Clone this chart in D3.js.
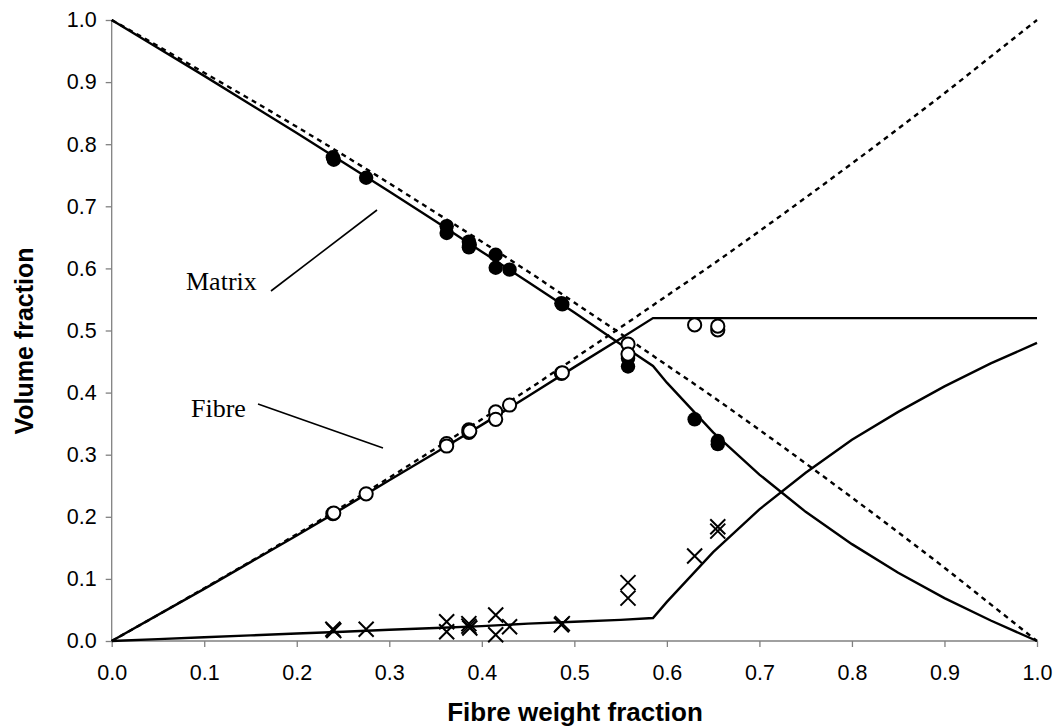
<!DOCTYPE html>
<html>
<head>
<meta charset="utf-8">
<script src="https://cdn.jsdelivr.net/npm/d3@7"></script>
<style>
  html, body { margin: 0; padding: 0; background: #fff; }
  svg { display: block; }
</style>
</head>
<body>
<svg id="chart" width="1055" height="728"></svg>
<script>
// ---------- data ----------
const xTicks = [0, 0.1, 0.2, 0.3, 0.4, 0.5, 0.6, 0.7, 0.8, 0.9, 1.0];
const yTicks = [0, 0.1, 0.2, 0.3, 0.4, 0.5, 0.6, 0.7, 0.8, 0.9, 1.0];

// measured samples: fibre weight fraction and the three volume fractions
const sampleW      = [0.239, 0.240, 0.275, 0.362, 0.362, 0.386, 0.386, 0.387, 0.415, 0.415, 0.430, 0.486, 0.487, 0.558, 0.558, 0.630, 0.655, 0.655];
const sampleMatrix = [0.779, 0.775, 0.746, 0.668, 0.657, 0.643, 0.634, 0.638, 0.622, 0.601, 0.598, 0.544, 0.542, 0.455, 0.442, 0.357, 0.322, 0.317];
const sampleFibre  = [0.205, 0.206, 0.237, 0.318, 0.314, 0.340, 0.336, 0.338, 0.369, 0.357, 0.380, 0.431, 0.432, 0.478, 0.462, 0.509, 0.501, 0.507];
const sampleVoid   = [0.019, 0.017, 0.019, 0.031, 0.015, 0.028, 0.024, 0.021, 0.042, 0.010, 0.023, 0.026, 0.028, 0.069, 0.094, 0.137, 0.177, 0.184];

// theoretical (void-free) curves — dashed
const theoryW      = [0, 0.05, 0.1, 0.15, 0.2, 0.25, 0.3, 0.35, 0.4, 0.45, 0.5, 0.55, 0.6, 0.65, 0.7, 0.75, 0.8, 0.85, 0.9, 0.95, 1.0];
const theoryMatrix = [1, 0.958, 0.915, 0.872, 0.828, 0.783, 0.737, 0.690, 0.643, 0.595, 0.545, 0.495, 0.444, 0.393, 0.340, 0.286, 0.231, 0.175, 0.118, 0.059, 0];
const theoryFibre  = [0, 0.042, 0.085, 0.128, 0.172, 0.217, 0.263, 0.310, 0.357, 0.405, 0.455, 0.505, 0.556, 0.607, 0.660, 0.714, 0.769, 0.825, 0.882, 0.941, 1.0];

// model curves including voids — solid
const modelW      = [0, 0.05, 0.1, 0.15, 0.2, 0.25, 0.3, 0.35, 0.4, 0.45, 0.5, 0.55, 0.585, 0.6, 0.65, 0.7, 0.75, 0.8, 0.85, 0.9, 0.95, 1.0];
const modelMatrix = [1, 0.955, 0.910, 0.864, 0.818, 0.771, 0.724, 0.676, 0.627, 0.578, 0.529, 0.478, 0.443, 0.416, 0.336, 0.268, 0.208, 0.156, 0.110, 0.069, 0.033, 0];
const modelFibre  = [0, 0.042, 0.084, 0.127, 0.170, 0.214, 0.259, 0.303, 0.348, 0.394, 0.441, 0.487, 0.520, 0.520, 0.520, 0.520, 0.520, 0.520, 0.520, 0.520, 0.520, 0.520];
const modelVoid   = [0, 0.003, 0.006, 0.009, 0.012, 0.015, 0.018, 0.021, 0.024, 0.028, 0.031, 0.034, 0.037, 0.063, 0.143, 0.212, 0.271, 0.324, 0.369, 0.410, 0.447, 0.480];

const annotations = [
  { text: "Matrix", tx: 186, ty: 290, x1: 271, y1: 291, x2: 377, y2: 210 },
  { text: "Fibre",  tx: 191, ty: 417, x1: 258, y1: 404, x2: 383, y2: 448 }
];

// ---------- layout ----------
const svg = d3.select("#chart");
const plotLeft = 111.7, plotRight = 1037, plotTop = 20, plotBottom = 641;
const x = d3.scaleLinear().domain([0, 1]).range([plotLeft, plotRight]);
const y = d3.scaleLinear().domain([0, 1]).range([plotBottom, plotTop]);
const axisColor = "#808080";
const fmt = d3.format(".1f");

// axes
const xAxis = svg.append("g").attr("transform", `translate(0,${plotBottom})`)
  .call(d3.axisBottom(x).tickValues(xTicks).tickFormat(fmt).tickSize(6).tickPadding(18));
const yAxis = svg.append("g").attr("transform", `translate(${plotLeft},0)`)
  .call(d3.axisLeft(y).tickValues(yTicks).tickFormat(fmt).tickSize(6).tickPadding(9));
[xAxis, yAxis].forEach(g => {
  g.select(".domain").attr("stroke", axisColor).attr("stroke-width", 1.3);
  g.selectAll(".tick line").attr("stroke", axisColor).attr("stroke-width", 1.3);
  g.selectAll(".tick text").attr("fill", "#000")
    .style("font-family", "'Liberation Sans', Arial, sans-serif").style("font-size", "21.5px");
});
xAxis.select(".domain").attr("d", `M${plotLeft},0H${plotRight}`);
yAxis.select(".domain").attr("d", `M0,${plotBottom}V${plotTop}`);

// axis titles
svg.append("text").attr("x", 575).attr("y", 721)
  .attr("text-anchor", "middle")
  .style("font-family", "'Liberation Sans', Arial, sans-serif").style("font-size", "26px").style("font-weight", "bold")
  .text("Fibre weight fraction");
svg.append("text").attr("transform", `translate(33,341) rotate(-90)`)
  .attr("text-anchor", "middle")
  .style("font-family", "'Liberation Sans', Arial, sans-serif").style("font-size", "25px").style("font-weight", "bold")
  .text("Volume fraction");

// lines
function drawLine(ws, vs, dashed) {
  const pts = ws.map((w, i) => [w, vs[i]]);
  svg.append("path").datum(pts)
    .attr("fill", "none").attr("stroke", "#000").attr("stroke-width", 2.4)
    .attr("stroke-dasharray", dashed ? "5,4.5" : null)
    .attr("d", d3.line().x(d => x(d[0])).y(d => y(d[1])).curve(dashed ? d3.curveMonotoneX : d3.curveLinear));
}
drawLine(theoryW, theoryMatrix, true);
drawLine(theoryW, theoryFibre, true);
drawLine(modelW, modelMatrix, false);
drawLine(modelW, modelFibre, false);
drawLine(modelW, modelVoid, false);

// markers
const samples = sampleW.map((w, i) => ({ w, m: sampleMatrix[i], f: sampleFibre[i], v: sampleVoid[i] }));
svg.append("g").selectAll("circle.m").data(samples).join("circle")
  .attr("cx", d => x(d.w)).attr("cy", d => y(d.m)).attr("r", 7.2).attr("fill", "#000");
svg.append("g").selectAll("circle.f").data(samples).join("circle")
  .attr("cx", d => x(d.w)).attr("cy", d => y(d.f)).attr("r", 6.6)
  .attr("fill", "#fff").attr("stroke", "#000").attr("stroke-width", 2);
const cs = 7.5;
svg.append("g").selectAll("path.v").data(samples).join("path")
  .attr("d", d => {
    const cx = x(d.w), cy = y(d.v);
    return `M${cx - cs},${cy - cs}L${cx + cs},${cy + cs}M${cx - cs},${cy + cs}L${cx + cs},${cy - cs}`;
  })
  .attr("stroke", "#000").attr("stroke-width", 2).attr("fill", "none");

// annotations
annotations.forEach(a => {
  svg.append("text").attr("x", a.tx).attr("y", a.ty)
    .style("font-family", "'Liberation Serif', 'Times New Roman', serif").style("font-size", "26px")
    .text(a.text);
  svg.append("line").attr("x1", a.x1).attr("y1", a.y1).attr("x2", a.x2).attr("y2", a.y2)
    .attr("stroke", "#000").attr("stroke-width", 1.6);
});
</script>
</body>
</html>
